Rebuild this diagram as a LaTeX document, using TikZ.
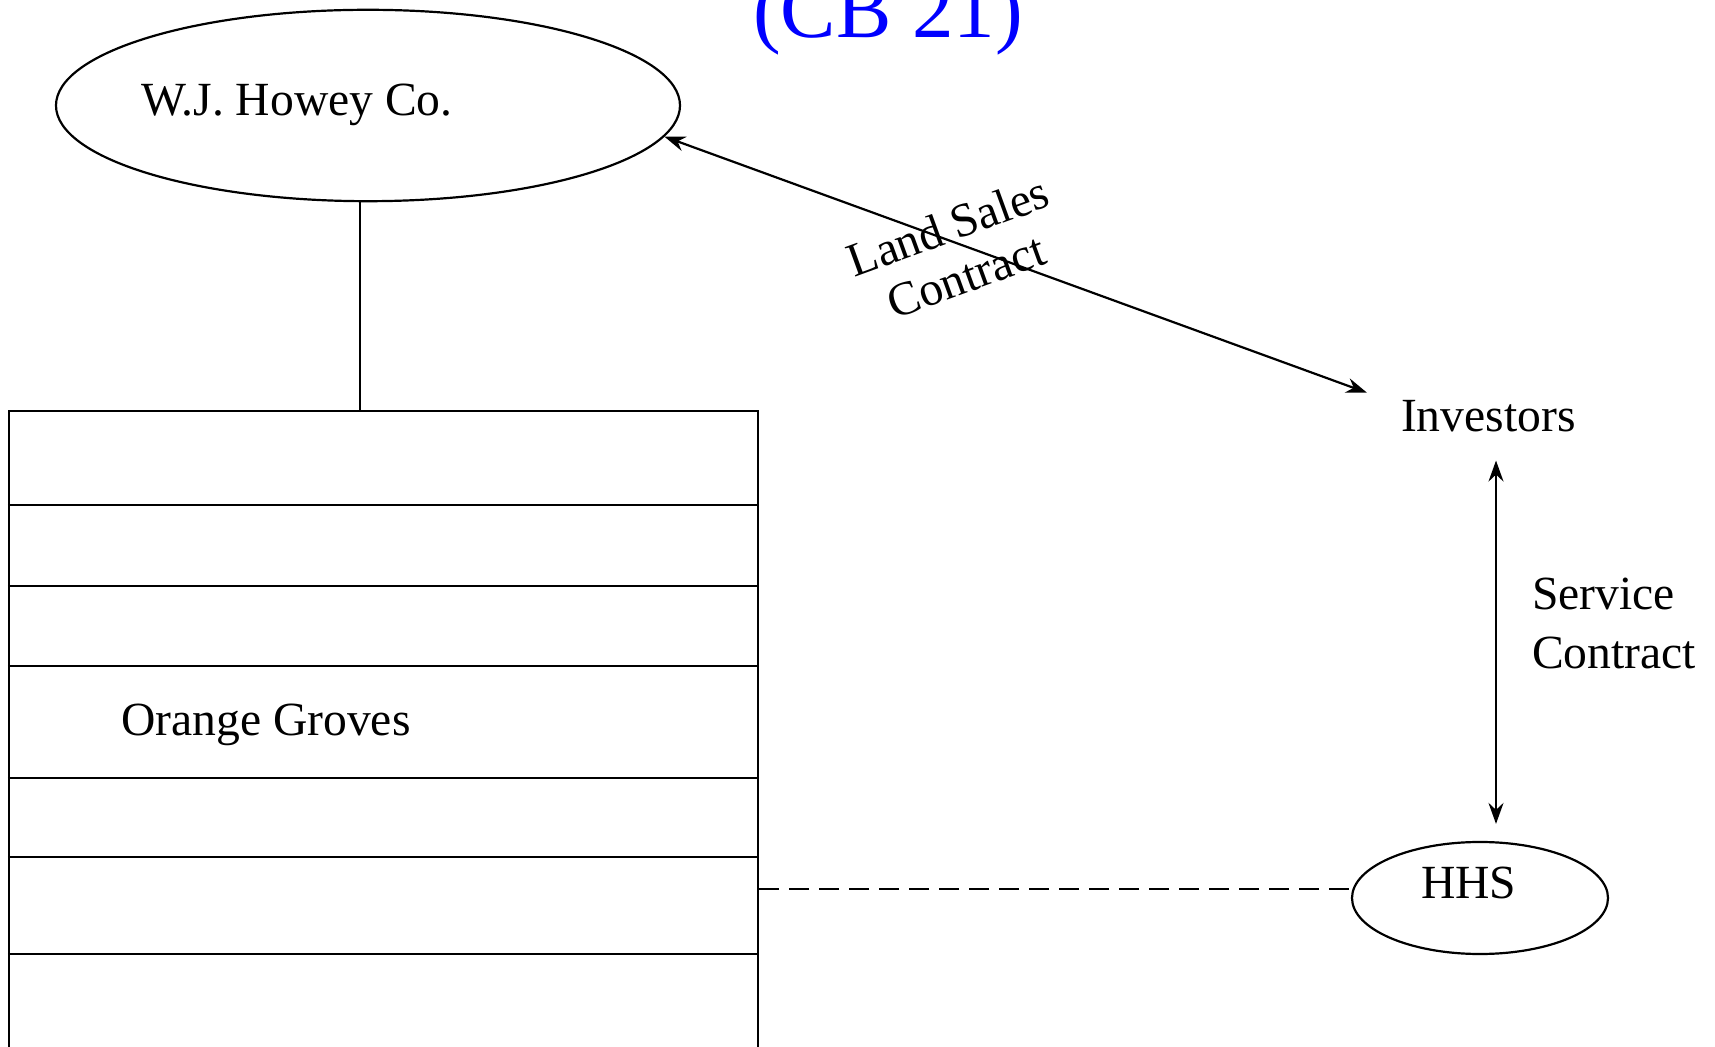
\documentclass[tikz,border=0pt]{standalone}
\usepackage{fontspec}
\setmainfont{Liberation Serif}
\usetikzlibrary{shapes.geometric,arrows.meta}
\begin{document}
\begin{tikzpicture}[x=0.5pt,y=-0.5pt,
  line width=1.1pt,
  lbl/.style={font=\fontsize{23.8}{29.5}\selectfont, inner sep=0pt},
  oval/.style={draw, ellipse, inner sep=0pt},
  arr/.style={{Stealth[length=10.5pt,width=7.5pt,inset=3.5pt]}-{Stealth[length=10.5pt,width=7.5pt,inset=3.5pt]}},
]
\clip (0,0) rectangle (1715,1047);
\fill[white] (0,0) rectangle (1715,1047);

% title
\node[font=\fontsize{41.5}{50}\selectfont, text=blue, inner sep=0pt, anchor=base west] (title) at (752,38) {(CB 21)};

% Howey ellipse
\node[oval, minimum width=312pt, minimum height=95.7pt] (howey) at (368,105.5) {};
\node[lbl, anchor=base west] (howeytext) at (140,115.5) {W.J. Howey Co.};

% Orange groves
\node[draw, minimum width=374.5pt, minimum height=323pt, inner sep=0pt] (groves) at (383.5,734) {};
\foreach \yy [count=\i] in {505,586,666,778,857,954} {
  \coordinate (h\i) at (0,\yy);
  \draw (groves.west |- h\i) -- (groves.east |- h\i);
}
\node[lbl, anchor=base west] (grovestext) at (120,735.5) {Orange Groves};

% link
\coordinate (link) at (360,411);
\draw (link |- howey.south) -- (link);

% Investors
\node[lbl, anchor=base west] (investors) at (1400,432) {Investors};

% HHS
\node[oval, minimum width=128pt, minimum height=56pt] (hhs) at (1480,898) {};
\node[lbl, anchor=base west] (hhstext) at (1420,899) {HHS};

% land sales arrow
\draw[arr] (howey.-6.4) -- ([xshift=-16.5pt,yshift=3.5pt]investors.north west);
\node[lbl, align=center, rotate=20, font=\fontsize{23.8}{26.5}\selectfont] (landsales) at (957,251) {Land Sales\\Contract};

% service arrow
\coordinate (vx) at (1496,0);
\draw[arr, shorten <=13.5pt, shorten >=8.5pt] (vx |- investors.south) -- (vx |- hhs.north);
\node[lbl, anchor=base west] (service) at (1531,610) {Service};
\node[lbl, anchor=base west] (contract) at (1531,669) {Contract};

% dashed
\draw[dash pattern=on 10pt off 5pt] (hhs.176 -| groves.east) -- (hhs.176);
\end{tikzpicture}
\end{document}
